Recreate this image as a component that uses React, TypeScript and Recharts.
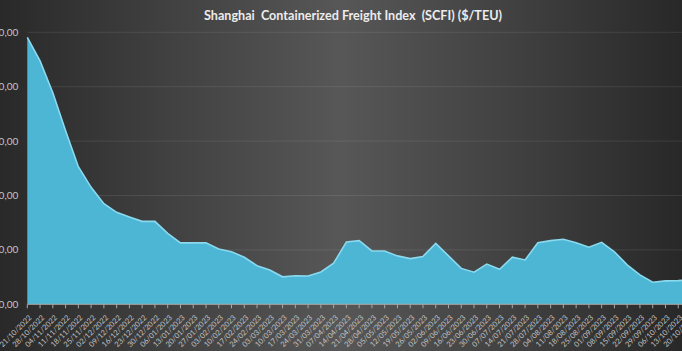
import React from 'react';
import { AreaChart, Area, XAxis, YAxis, CartesianGrid } from 'recharts';

const WEEKS = [
  '21/10/2022', '28/10/2022', '04/11/2022', '11/11/2022', '18/11/2022', '25/11/2022',
  '02/12/2022', '09/12/2022', '16/12/2022', '23/12/2022', '30/12/2022', '06/01/2023',
  '13/01/2023', '20/01/2023', '27/01/2023', '03/02/2023', '10/02/2023', '17/02/2023',
  '24/02/2023', '03/03/2023', '10/03/2023', '17/03/2023', '24/03/2023', '31/03/2023',
  '07/04/2023', '14/04/2023', '21/04/2023', '28/04/2023', '05/05/2023', '12/05/2023',
  '19/05/2023', '26/05/2023', '02/06/2023', '09/06/2023', '16/06/2023', '23/06/2023',
  '30/06/2023', '07/07/2023', '14/07/2023', '21/07/2023', '28/07/2023', '04/08/2023',
  '11/08/2023', '18/08/2023', '25/08/2023', '01/09/2023', '08/09/2023', '15/09/2023',
  '22/09/2023', '29/09/2023', '06/10/2023', '13/10/2023', '20/10/2023',
];

// SCFI ($/TEU)
const SCFI = [
  1781, 1695, 1578, 1438, 1306, 1230,
  1170, 1138, 1121, 1105, 1105, 1061,
  1026, 1026, 1026, 1003, 993, 973,
  942, 926, 901, 905, 904, 919,
  951, 1029, 1034, 996, 996, 978,
  968, 976, 1024, 978, 932, 918,
  948, 929, 973, 963, 1026, 1034,
  1039, 1026, 1010, 1028, 993, 945,
  908, 881, 886, 887, 890,
];

const Y_TICKS = [800, 1000, 1200, 1400, 1600, 1800];

const TITLE = 'Shanghai  Containerized Freight Index  (SCFI) ($/TEU)';

const data = WEEKS.map((week, i) => ({ week, scfi: SCFI[i] }));

// 1800 -> "1.800,00"
const fmt = (v: number) => {
  const s = Math.round(v).toString();
  const int = s.replace(/\B(?=(\d{3})+(?!\d))/g, '.');
  return `${int},00`;
};

const DateTick = ({ x, y, payload }: any) => (
  <g transform={`translate(${x + 3},${y + 6})`}>
    <text
      transform="rotate(-45)"
      textAnchor="end"
      dy="0.35em"
      fill="#c4c4c4"
      fontSize={7.5}
      fontFamily="Lato, sans-serif"
    >
      {payload.value}
    </text>
  </g>
);

const SHIFT = 30; // chart is cropped on the left like the original

export default function App() {
  return (
    <div
      style={{
        position: 'absolute',
        left: 0,
        top: 0,
        width: 682,
        height: 351,
        overflow: 'hidden',
        background: 'linear-gradient(to right, #292929 0%, #414141 25%, #575757 50%, #414141 75%, #282828 100%)',
      }}
    >
      <div
        style={{
          position: 'absolute',
          left: 0,
          top: 6,
          width: 706,
          textAlign: 'center',
          whiteSpace: 'pre',
          color: '#ececec',
          fontFamily: 'Lato, sans-serif',
          fontWeight: 700,
          fontSize: 12.6,
          lineHeight: '20px',
        }}
      >
        {TITLE}
      </div>
      <div style={{ position: 'absolute', left: -SHIFT, top: 0 }}>
        <AreaChart
          width={741}
          height={351}
          data={data}
          margin={{ top: 32.3, right: 20, bottom: 0, left: 0 }}
        >
          <CartesianGrid horizontal vertical={false} stroke="rgba(255,255,255,0.09)" />
          <XAxis
            dataKey="week"
            interval={0}
            height={46.7}
            tickSize={4}
            tickMargin={2}
            axisLine={{ stroke: '#a8a8a8' }}
            tickLine={{ stroke: '#a8a8a8' }}
            tick={<DateTick />}
          />
          <YAxis
            width={57.3}
            domain={[800, 1800]}
            ticks={Y_TICKS}
            allowDataOverflow
            axisLine={false}
            tickLine={false}
            tickSize={0}
            tickMargin={9}
            tickFormatter={fmt}
            tick={{ fill: '#c4c4c4', fontSize: 10, fontFamily: 'Lato, sans-serif' }}
          />
          <Area
            type="linear"
            dataKey="scfi"
            stroke="#8ad9ef"
            strokeWidth={1.6}
            fill="#4db6d4"
            fillOpacity={1}
            isAnimationActive={false}
          />
        </AreaChart>
      </div>
    </div>
  );
}
